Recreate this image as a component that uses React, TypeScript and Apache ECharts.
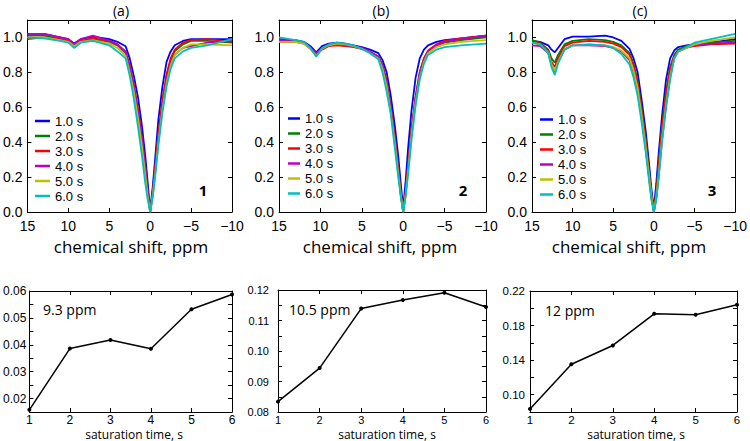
import React, { useEffect, useRef } from 'react';
import * as echarts from 'echarts';

const seriesNames = ['1.0 s', '2.0 s', '3.0 s', '4.0 s', '5.0 s', '6.0 s'];
const seriesColors = ['#0000ff', '#008000', '#ff0000', '#bf00bf', '#bfbf00', '#00bfbf'];

// Panel (a): chemical shift (ppm) and Z-spectra
const shiftA = [15, 13, 11, 10, 9.3, 8.5, 7, 5, 4, 3, 2.5, 2, 1.5, 1, 0.6, 0.3, 0, -0.3, -0.6, -1, -1.5, -2, -2.5, -3, -4, -5, -7, -10];
const a1s = [1.02, 1.02, 1.0, 0.99, 0.965, 0.99, 1.005, 0.99, 0.975, 0.95, 0.88, 0.78, 0.66, 0.49, 0.32, 0.165, 0.01, 0.14, 0.3, 0.53, 0.72, 0.86, 0.92, 0.955, 0.98, 0.99, 0.99, 0.99];
const a2s = [1.01, 1.01, 0.99, 0.98, 0.955, 0.98, 0.99, 0.975, 0.955, 0.91, 0.83, 0.72, 0.58, 0.41, 0.25, 0.11, 0.0, 0.11, 0.24, 0.44, 0.63, 0.78, 0.87, 0.92, 0.96, 0.98, 0.98, 0.97];
const a3s = [0.99, 1.0, 0.99, 0.98, 0.955, 0.98, 0.995, 0.98, 0.96, 0.92, 0.84, 0.73, 0.59, 0.42, 0.26, 0.12, 0.0, 0.11, 0.25, 0.45, 0.64, 0.79, 0.88, 0.93, 0.97, 0.985, 0.99, 0.975];
const a4s = [1.02, 1.02, 1.0, 0.99, 0.96, 0.99, 1.01, 0.98, 0.96, 0.915, 0.83, 0.72, 0.58, 0.41, 0.25, 0.11, 0.0, 0.1, 0.23, 0.42, 0.6, 0.75, 0.85, 0.9, 0.94, 0.95, 0.97, 0.98];
const a5s = [1.0, 1.0, 0.985, 0.975, 0.95, 0.975, 0.985, 0.965, 0.94, 0.895, 0.8, 0.69, 0.54, 0.37, 0.21, 0.09, 0.0, 0.09, 0.21, 0.4, 0.59, 0.74, 0.84, 0.9, 0.94, 0.96, 0.96, 0.955];
const a6s = [1.0, 0.995, 0.98, 0.97, 0.94, 0.97, 0.98, 0.955, 0.92, 0.88, 0.78, 0.65, 0.49, 0.32, 0.165, 0.07, 0.0, 0.08, 0.2, 0.38, 0.57, 0.72, 0.82, 0.88, 0.92, 0.94, 0.955, 0.99];

// Panel (b)
const shiftB = [15, 13, 12, 11.2, 10.5, 9.8, 9, 8, 7, 6, 5, 4, 3, 2.5, 2, 1.5, 1, 0.6, 0.3, 0, -0.3, -0.6, -1, -1.5, -2, -2.5, -3, -4, -5, -7, -10];
const b1s = [0.99, 0.985, 0.975, 0.95, 0.915, 0.95, 0.965, 0.97, 0.965, 0.955, 0.945, 0.93, 0.91, 0.87, 0.8, 0.665, 0.49, 0.32, 0.165, 0.02, 0.18, 0.37, 0.58, 0.77, 0.88, 0.93, 0.955, 0.975, 0.985, 0.995, 1.01];
const b2s = [0.985, 0.98, 0.97, 0.94, 0.895, 0.94, 0.96, 0.965, 0.96, 0.95, 0.935, 0.915, 0.89, 0.84, 0.75, 0.6, 0.42, 0.25, 0.11, 0.0, 0.12, 0.27, 0.47, 0.66, 0.8, 0.88, 0.92, 0.955, 0.97, 0.985, 1.0];
const b3s = [0.975, 0.975, 0.965, 0.935, 0.9, 0.93, 0.95, 0.955, 0.95, 0.945, 0.935, 0.915, 0.89, 0.84, 0.75, 0.6, 0.42, 0.25, 0.11, 0.0, 0.12, 0.27, 0.47, 0.66, 0.8, 0.88, 0.925, 0.96, 0.98, 0.995, 1.01];
const b4s = [0.985, 0.98, 0.97, 0.94, 0.91, 0.935, 0.955, 0.96, 0.955, 0.95, 0.94, 0.92, 0.89, 0.84, 0.74, 0.59, 0.41, 0.24, 0.1, 0.0, 0.11, 0.26, 0.46, 0.65, 0.79, 0.87, 0.92, 0.955, 0.975, 0.99, 1.01];
const b5s = [0.975, 0.975, 0.965, 0.935, 0.895, 0.935, 0.955, 0.965, 0.96, 0.95, 0.935, 0.91, 0.88, 0.82, 0.72, 0.57, 0.39, 0.22, 0.1, 0.0, 0.1, 0.24, 0.44, 0.63, 0.77, 0.86, 0.91, 0.945, 0.96, 0.975, 0.985];
const b6s = [1.0, 0.985, 0.975, 0.94, 0.89, 0.94, 0.96, 0.97, 0.965, 0.955, 0.935, 0.91, 0.875, 0.8, 0.69, 0.56, 0.36, 0.2, 0.09, 0.0, 0.09, 0.22, 0.41, 0.61, 0.76, 0.85, 0.9, 0.93, 0.945, 0.955, 0.965];

// Panel (c)
const shiftC = [15, 14, 13, 12.6, 12.2, 11.8, 11, 10, 8, 6, 5, 4, 3, 2.5, 2, 1.5, 1, 0.6, 0.3, 0, -0.3, -0.6, -1, -1.5, -2, -2.5, -3, -4, -5, -7, -10];
const c1s = [0.98, 0.975, 0.955, 0.93, 0.915, 0.94, 0.99, 1.005, 1.005, 1.01, 1.0, 0.98, 0.935, 0.88, 0.8, 0.64, 0.46, 0.28, 0.13, 0.02, 0.165, 0.34, 0.55, 0.76, 0.88, 0.925, 0.945, 0.955, 0.96, 0.97, 0.99];
const c2s = [0.985, 0.97, 0.93, 0.88, 0.855, 0.9, 0.96, 0.98, 0.99, 0.985, 0.975, 0.955, 0.91, 0.85, 0.75, 0.59, 0.41, 0.24, 0.1, 0.0, 0.12, 0.28, 0.49, 0.69, 0.83, 0.9, 0.93, 0.95, 0.96, 0.97, 0.98];
const c3s = [0.975, 0.965, 0.92, 0.86, 0.83, 0.88, 0.95, 0.97, 0.98, 0.975, 0.965, 0.945, 0.9, 0.84, 0.74, 0.58, 0.4, 0.23, 0.1, 0.0, 0.11, 0.27, 0.48, 0.68, 0.82, 0.89, 0.925, 0.945, 0.95, 0.96, 0.965];
const c4s = [0.955, 0.95, 0.91, 0.84, 0.805, 0.86, 0.93, 0.955, 0.955, 0.95, 0.94, 0.92, 0.87, 0.8, 0.7, 0.54, 0.36, 0.2, 0.08, 0.0, 0.08, 0.21, 0.41, 0.61, 0.77, 0.88, 0.92, 0.94, 0.955, 0.965, 0.97];
const c5s = [0.97, 0.96, 0.915, 0.845, 0.81, 0.86, 0.935, 0.955, 0.96, 0.955, 0.945, 0.925, 0.88, 0.81, 0.71, 0.55, 0.37, 0.21, 0.09, 0.0, 0.09, 0.22, 0.42, 0.62, 0.78, 0.88, 0.92, 0.94, 0.96, 0.98, 1.0];
const c6s = [0.97, 0.96, 0.91, 0.83, 0.785, 0.85, 0.93, 0.955, 0.96, 0.955, 0.94, 0.905, 0.845, 0.77, 0.665, 0.51, 0.34, 0.18, 0.07, 0.0, 0.07, 0.2, 0.4, 0.6, 0.76, 0.88, 0.92, 0.945, 0.97, 0.99, 1.02];

// Bottom panels: saturation time (s) vs. effect
const satTime = [1, 2, 3, 4, 5, 6];
const mtr93 = [0.0158, 0.0386, 0.0418, 0.0385, 0.0532, 0.0587];
const mtr105 = [0.0834, 0.0944, 0.1139, 0.1167, 0.1191, 0.1144];
const mtr12 = [0.0836, 0.1352, 0.157, 0.1936, 0.1925, 0.204];

const topTitles = ['(a)', '(b)', '(c)'];
const panelNumbers = ['1', '2', '3'];
const bottomLabels = ['9.3 ppm', '10.5 ppm', '12 ppm'];

const FONT_NUM = '"Liberation Sans", Arial, sans-serif';
const FONT_TXT = '"Open Sans", "Noto Sans", sans-serif';

const topGrids = [
  { left: 27, top: 20, width: 205, height: 192 },
  { left: 279, top: 20, width: 207, height: 192 },
  { left: 532, top: 20, width: 205, height: 192 },
];
const bottomGrids = [
  { left: 26, top: 291, width: 206, height: 121 },
  { left: 278, top: 290, width: 208, height: 122 },
  { left: 530, top: 291, width: 207, height: 121 },
];

function App() {
  const ref = useRef<HTMLDivElement>(null);
  useEffect(() => {
    document.body.style.margin = '0';
    if (!ref.current) return;
    const chart = echarts.init(ref.current, null, { renderer: 'svg' });

    const topData = [
      { x: shiftA, ys: [a1s, a2s, a3s, a4s, a5s, a6s] },
      { x: shiftB, ys: [b1s, b2s, b3s, b4s, b5s, b6s] },
      { x: shiftC, ys: [c1s, c2s, c3s, c4s, c5s, c6s] },
    ];
    const bottomData = [mtr93, mtr105, mtr12];

    const line = { show: true, onZero: false, lineStyle: { color: '#000', width: 1 } };
    const tick = { show: true, inside: true, length: 4, lineStyle: { color: '#000', width: 1 } };
    const minus = (v: number) => (v < 0 ? '\u2212' + Math.abs(v) : String(v));

    const grids: any[] = [];
    const xAxes: any[] = [];
    const yAxes: any[] = [];
    const series: any[] = [];

    topGrids.forEach((g, i) => {
      grids.push({ ...g });
      const gi = grids.length - 1;
      const xBase = {
        type: 'value', gridIndex: gi, min: -10, max: 15, interval: 5, inverse: true,
        axisLine: line, axisTick: tick, splitLine: { show: false },
      };
      xAxes.push({ ...xBase, position: 'bottom', axisLabel: { show: true, margin: 7, fontSize: 14, fontFamily: FONT_NUM, color: '#000', formatter: minus } });
      xAxes.push({ ...xBase, position: 'top', axisLabel: { show: false } });
      const yBase = {
        type: 'value', gridIndex: gi, min: 0, max: 1.1, interval: 0.2,
        axisLine: line, axisTick: tick, splitLine: { show: false },
      };
      yAxes.push({ ...yBase, position: 'left', axisLabel: { show: true, margin: 5, fontSize: 14, fontFamily: FONT_NUM, color: '#000', formatter: (v: number) => (v > 1.05 ? '' : v.toFixed(1)) } });
      yAxes.push({ ...yBase, position: 'right', axisLabel: { show: false } });
      const xi = xAxes.length - 2;
      const yi = yAxes.length - 2;
      topData[i].ys.forEach((ys, k) => {
        series.push({
          type: 'line', name: seriesNames[k], xAxisIndex: xi, yAxisIndex: yi,
          data: topData[i].x.map((x, j) => [x, ys[j]]),
          showSymbol: false, symbol: 'none', smooth: false,
          color: seriesColors[k],
          itemStyle: { color: seriesColors[k] },
          lineStyle: { color: seriesColors[k], width: 1.8 },
          silent: true,
        });
      });
    });

    const yCfgs = [
      { min: 0.015, max: 0.06, interval: 0.005, fmt: (v: number) => (Math.abs(v * 100 - Math.round(v * 100)) < 1e-6 ? v.toFixed(2) : ''), margin: 3, fs: 12 },
      { min: 0.08, max: 0.12, interval: 0.005, fmt: (v: number) => (Math.abs(v * 100 - Math.round(v * 100)) < 1e-6 ? v.toFixed(2) : ''), margin: 9, fs: 11 },
      { min: 0.08, max: 0.22, interval: 0.02, fmt: (v: number) => { const r = (v - 0.10) / 0.04; return Math.abs(r - Math.round(r)) < 1e-6 ? v.toFixed(2) : ''; }, margin: 5, fs: 11.5 },
    ];
    bottomGrids.forEach((g, i) => {
      grids.push({ ...g });
      const gi = grids.length - 1;
      const c = yCfgs[i];
      const xBase = {
        type: 'value', gridIndex: gi, min: 1, max: 6, interval: 1,
        axisLine: line, axisTick: tick, splitLine: { show: false },
      };
      xAxes.push({ ...xBase, position: 'bottom', axisLabel: { show: true, margin: 2, fontSize: c.fs, fontFamily: FONT_NUM, color: '#000' } });
      xAxes.push({ ...xBase, position: 'top', axisLabel: { show: false } });
      const yBase = {
        type: 'value', gridIndex: gi, min: c.min, max: c.max, interval: c.interval,
        axisLine: line, axisTick: tick, splitLine: { show: false },
      };
      yAxes.push({ ...yBase, position: 'left', axisLabel: { show: true, margin: c.margin, fontSize: c.fs, fontFamily: FONT_NUM, color: '#000', formatter: c.fmt } });
      yAxes.push({ ...yBase, position: 'right', axisLabel: { show: false } });
      series.push({
        type: 'line', name: 'effect' + i, xAxisIndex: xAxes.length - 2, yAxisIndex: yAxes.length - 2,
        data: satTime.map((t, j) => [t, bottomData[i][j]]),
        symbol: 'circle', symbolSize: 4, showSymbol: true,
        itemStyle: { color: '#000' }, lineStyle: { color: '#000', width: 1.5 },
        silent: true,
      });
    });

    const legendPos = [
      { left: 35, top: 113.5, itemWidth: 15 },
      { left: 288, top: 111, itemWidth: 12 },
      { left: 540, top: 112, itemWidth: 13 },
    ];
    const legends = legendPos.map((p) => ({
      show: true, orient: 'vertical', left: p.left, top: p.top, padding: 0,
      itemWidth: p.itemWidth, itemHeight: 2.5, itemGap: 0, icon: 'rect',
      selectedMode: false, data: seriesNames,
      textStyle: { fontSize: 13, fontFamily: FONT_NUM, color: '#000', lineHeight: 15 },
    }));

    const txt = (text: string, x: number, y: number, size: number, align = 'center', weight = 'normal', family = FONT_TXT) => ({
      type: 'text', x, y, silent: true,
      style: {
        text, fontSize: size, fontFamily: family, fontWeight: weight, fill: '#000',
        align, verticalAlign: 'middle', textAlign: align, textVerticalAlign: 'middle',
      },
    });

    const graphics: any[] = [];
    const titleX = [121, 381, 640];
    topTitles.forEach((t, i) => graphics.push(txt(t, titleX[i], 10, 14)));
    const xNameX = [131, 380, 629];
    xNameX.forEach((x) => graphics.push(txt('chemical shift, ppm', x, 246, 17)));
    const numPos = [[203, 190], [463, 190], [712, 190]];
    panelNumbers.forEach((n, i) => graphics.push(txt(n, numPos[i][0], numPos[i][1], 15, 'center', 'bold')));
    const satX = [134, 387, 636];
    satX.forEach((x) => graphics.push(txt('saturation time, s', x, 434, 12)));
    const lblPos = [[43, 309.5], [289, 309.5], [545, 310]];
    bottomLabels.forEach((l, i) => graphics.push(txt(l, lblPos[i][0], lblPos[i][1], 14, 'left')));

    chart.setOption({
      animation: false,
      backgroundColor: '#fff',
      grid: grids,
      xAxis: xAxes,
      yAxis: yAxes,
      legend: legends,
      series,
      graphic: { elements: graphics },
    });
    return () => chart.dispose();
  }, []);
  return <div ref={ref} style={{ width: 750, height: 441, background: '#fff' }} />;
}

export default App;
